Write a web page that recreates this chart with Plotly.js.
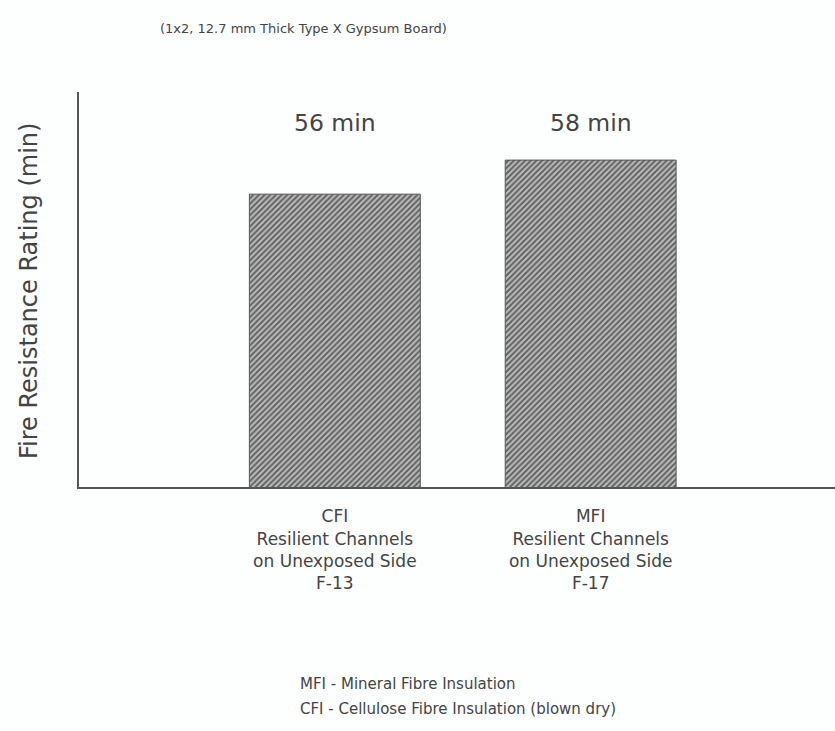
<!DOCTYPE html>
<html>
<head>
<meta charset="utf-8">
<script src="https://cdn.plot.ly/plotly-3.0.1.min.js"></script>
<style>html,body{margin:0;padding:0;background:#fff;}#chart{width:835px;height:731px;}</style>
</head>
<body>
<div id="chart"></div>
<script>
const categories = ["CFI<br>Resilient Channels<br>on Unexposed Side<br>F-13", "MFI<br>Resilient Channels<br>on Unexposed Side<br>F-17"];
const ratings = [56, 58];
const valueLabels = ["56 min", "58 min"];
const chartTitle = "(1x2, 12.7 mm Thick Type X Gypsum Board)";
const yTitle = "Fire Resistance Rating (min)";
const footnotes = ["MFI - Mineral Fibre Insulation", "CFI - Cellulose Fibre Insulation (blown dry)"];

const font = "DejaVu Sans, Verdana, sans-serif";
const trace = {
  type: "bar",
  x: categories,
  y: ratings,
  width: 0.668,
  marker: {
    color: "#8c8c8c",
    line: {color: "#555", width: 1},
    pattern: {shape: "/", fgcolor: "#5a5a5a", bgcolor: "#b8b8b8", size: 4, solidity: 0.45}
  },
  hoverinfo: "skip"
};

const annotations = valueLabels.map((t, i) => ({
  x: categories[i], y: 62, xref: "x", yref: "y", text: t, showarrow: false,
  yanchor: "middle", yshift: -31, font: {family: font, size: 23.5, color: "#444"}
}));
annotations.push({
  xref: "paper", yref: "paper", x: (29 - 79) / 756, y: (487 - 291) / 395, text: yTitle,
  textangle: -90, showarrow: false, xanchor: "center", yanchor: "middle",
  font: {family: font, size: 24, color: "#444"}
});
annotations.push({
  xref: "paper", yref: "paper", x: (158 - 79) / 756, y: (487 - 28) / 395, text: chartTitle,
  showarrow: false, xanchor: "left", yanchor: "middle",
  font: {family: font, size: 13, color: "#444"}
});
footnotes.forEach((t, i) => annotations.push({
  xref: "paper", yref: "paper", x: (298 - 79) / 756, y: (487 - (684 + 25 * i)) / 395, text: t,
  showarrow: false, xanchor: "left", yanchor: "middle", align: "left",
  font: {family: font, size: 15, color: "#444"}
}));

const layout = {
  width: 835, height: 731,
  margin: {l: 79, r: 0, t: 92, b: 244, pad: 0},
  paper_bgcolor: "#fdfefe", plot_bgcolor: "#fdfefe",
  showlegend: false,
  xaxis: {
    type: "category", range: [-1, 1.955], showline: true, linecolor: "#555", linewidth: 2,
    showgrid: false, zeroline: false, ticks: "", ticklabelstandoff: 13,
    tickfont: {family: font, size: 17, color: "#444"}
  },
  yaxis: {
    range: [38.8, 62], showline: true, linecolor: "#555", linewidth: 2,
    showgrid: false, zeroline: false, showticklabels: false, ticks: ""
  },
  annotations: annotations
};

Plotly.newPlot("chart", [trace], layout, {displayModeBar: false, staticPlot: true});
</script>
</body>
</html>
